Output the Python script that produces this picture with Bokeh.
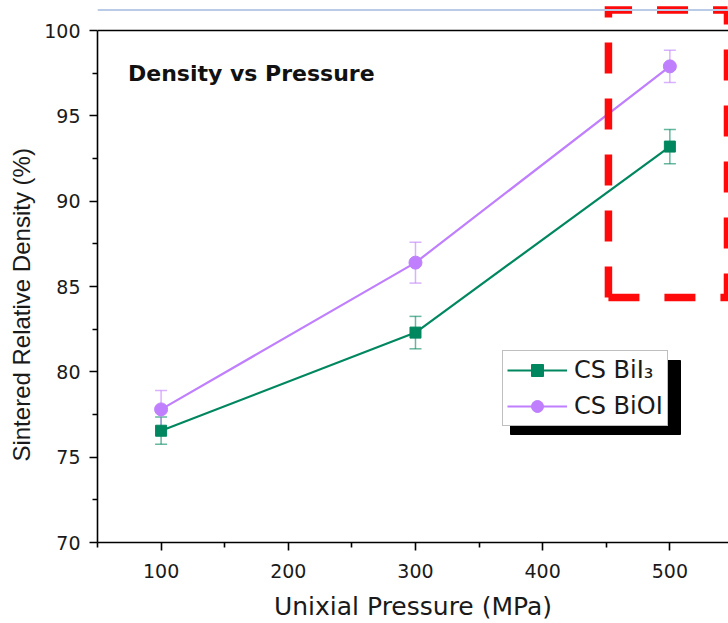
from bokeh.plotting import figure
from bokeh.models import (Range1d, FixedTicker, Whisker, ColumnDataSource, Legend,
                          LegendItem, Span, Label, TeeHead)
from bokeh.embed import file_html
from bokeh.resources import INLINE

# --- data -----------------------------------------------------------------
pressure = [100, 300, 500]                 # MPa
bii3_density = [76.55, 82.3, 93.2]         # %
bii3_err = [0.8, 0.95, 1.0]
bioi_density = [77.8, 86.4, 97.9]          # %
bioi_err = [1.1, 1.2, 0.95]

x_ticks = [100, 200, 300, 400, 500]
x_minor = [50, 150, 250, 350, 450]
y_ticks = [70, 75, 80, 85, 90, 95, 100]
y_minor = [72.5, 77.5, 82.5, 87.5, 92.5, 97.5]

GREEN = "#00875f"
PURPLE = "#bf7fff"
FONT = "DejaVu Sans"

# --- canvas / frame geometry ------------------------------------------------
W, H = 728, 623
LEFT, BOTTOM = 97, 81
X0, X1 = 50, 546.1
Y0, Y1 = 70, 101.76
FRAME_W, FRAME_H = W - LEFT, H - BOTTOM
px_x = FRAME_W / (X1 - X0)
px_y = FRAME_H / (Y1 - Y0)

p = figure(width=W, height=H, x_range=Range1d(X0, X1), y_range=Range1d(Y0, Y1),
           output_backend="svg", toolbar_location=None,
           min_border_left=LEFT, min_border_right=0, min_border_top=0,
           min_border_bottom=BOTTOM)
p.outline_line_color = None
p.xgrid.visible = False
p.ygrid.visible = False
p.background_fill_color = "white"
p.border_fill_color = "white"

# thin rule across the top of the page
p.add_layout(Span(location=101.2, dimension="width", line_color="#b9cbe6", line_width=2))
# top edge of the plotting box
p.add_layout(Span(location=100, dimension="width", line_color="black", line_width=1.6))

for ax, ticks, minor in ((p.xaxis, x_ticks, x_minor), (p.yaxis, y_ticks, y_minor)):
    ax.ticker = FixedTicker(ticks=ticks, minor_ticks=minor)
    ax.axis_line_width = 1.6
    ax.axis_line_color = "black"
    ax.major_tick_line_width = 1.6
    ax.minor_tick_line_width = 1.6
    ax.major_tick_in = 0
    ax.minor_tick_in = 0
    ax.major_tick_out = 8
    ax.minor_tick_out = 5
    ax.major_label_text_font = FONT
    ax.major_label_text_font_size = "19px"
    ax.major_label_text_color = "#1a1a1a"
    ax.axis_label_text_font_style = "normal"
    ax.axis_label_text_color = "#1a1a1a"

p.yaxis.bounds = (70, 100)
p.yaxis.major_label_standoff = 9
p.xaxis.major_label_standoff = 13

p.xaxis.axis_label = "Unixial Pressure (MPa)"
p.xaxis.axis_label_text_font = FONT
p.xaxis.axis_label_text_font_size = "25px"
p.xaxis.axis_label_standoff = 11

# the y title is centred on the frame; trailing no-break spaces nudge the
# visible words down to sit against the 70-100 scale
p.yaxis.axis_label = "Sintered Relative Density (%)" + "\u00a0" * 10
p.yaxis.axis_label_text_font = "Liberation Sans"
p.yaxis.axis_label_text_font_size = "24px"
p.yaxis.axis_label_standoff = 6

# --- series -----------------------------------------------------------------
def series(values, errs, color, marker, size):
    src = ColumnDataSource(dict(
        x=pressure, y=values,
        upper=[v + e for v, e in zip(values, errs)],
        lower=[v - e for v, e in zip(values, errs)]))
    whisker = Whisker(base="x", upper="upper", lower="lower", source=src,
                      dimension="height", line_color=color, line_alpha=0.6,
                      line_width=1.5,
                      upper_head=TeeHead(size=12, line_color=color, line_alpha=0.6, line_width=1.5),
                      lower_head=TeeHead(size=12, line_color=color, line_alpha=0.6, line_width=1.5))
    p.add_layout(whisker)
    ln = p.line("x", "y", source=src, line_color=color, line_width=2.2)
    mk = p.scatter("x", "y", source=src, marker=marker, size=size,
                   fill_color=color, line_color=color)
    return ln, mk

l1, s1 = series(bii3_density, bii3_err, GREEN, "square", 11)
l2, s2 = series(bioi_density, bioi_err, PURPLE, "circle", 13)

# --- legend with drop shadow ------------------------------------------------
LEG_X, LEG_Y = 405, 116          # offset from the frame's lower-left corner, px
LEG_W, LEG_H, SHADOW = 170, 74, 8
p.quad(left=X0 + (LEG_X + SHADOW) / px_x,
       right=X0 + (LEG_X + SHADOW + LEG_W) / px_x,
       top=Y0 + (LEG_Y - SHADOW + LEG_H) / px_y,
       bottom=Y0 + (LEG_Y - SHADOW) / px_y,
       fill_color="black", line_color="black")

legend = Legend(items=[LegendItem(label="CS BiI\u2083", renderers=[l1, s1]),
                       LegendItem(label="CS BiOI", renderers=[l2, s2])],
                location=(LEG_X, LEG_Y))
legend.label_text_font = FONT
legend.label_text_font_size = "24px"
legend.label_text_color = "#1a1a1a"
legend.border_line_color = "#808080"
legend.border_line_width = 1
legend.background_fill_color = "white"
legend.background_fill_alpha = 1
legend.padding = 4
legend.spacing = 6
legend.margin = 0
legend.glyph_width = 60
legend.glyph_height = 30
legend.label_height = 30
legend.label_standoff = 7
p.add_layout(legend)

# --- heading inside the plot --------------------------------------------------
p.add_layout(Label(x=74, y=97.5, text="Density vs Pressure", text_font=FONT,
                   text_font_style="bold", text_font_size="22px",
                   text_color="#111111", text_baseline="alphabetic"))

# --- dashed highlight around the 500 MPa results ------------------------------
BOX_L, BOX_R, BOX_B, BOX_T = 451.7, 545.3, 84.36, 101.2
p.line([BOX_L, BOX_L, BOX_R], [BOX_B, BOX_T, BOX_T], line_color="#ff0a0a",
       line_width=7.5, line_dash="31 25", line_join="miter")
p.line([BOX_L, BOX_R, BOX_R], [BOX_B, BOX_B, BOX_T], line_color="#ff0a0a",
       line_width=7.5, line_dash="31 25", line_join="miter")

open("out.html", "w").write(file_html(p, INLINE))
